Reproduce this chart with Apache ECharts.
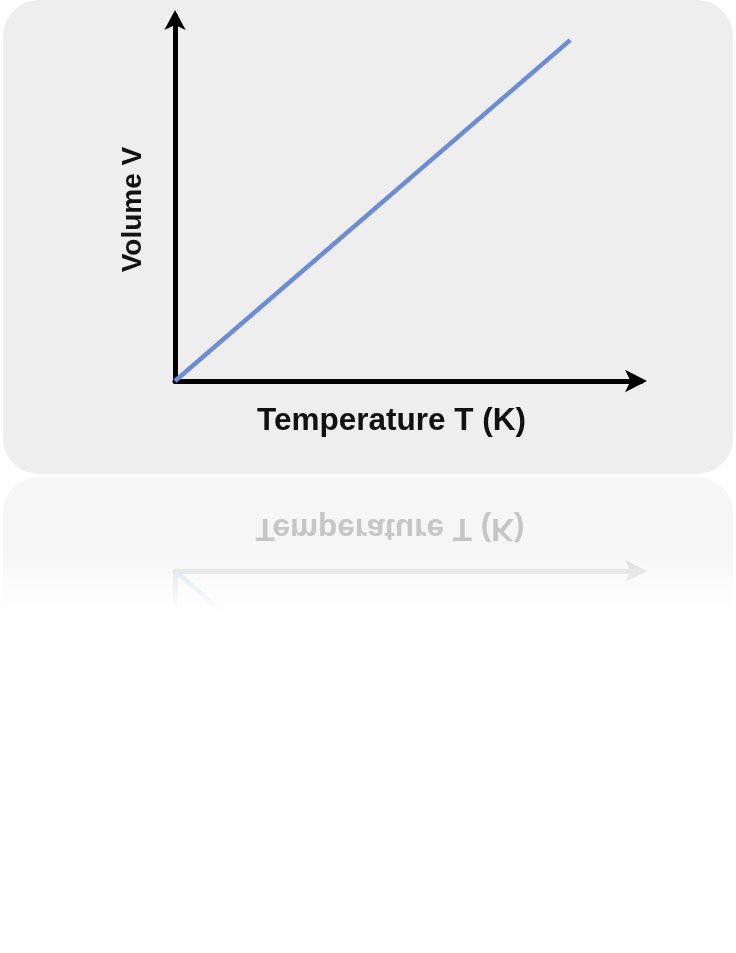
<!DOCTYPE html>
<html>
<head>
<meta charset="utf-8">
<script src="https://cdn.jsdelivr.net/npm/echarts@6/dist/echarts.min.js"></script>
<style>html,body{margin:0;padding:0;background:#fff}#c{width:736px;height:953px}</style>
</head>
<body>
<div id="c"></div>
<script>
// Data
var temperature = [0, 84.8];
var volume = [0, 93.4];
var xName = 'Temperature T (K)';
var yName = 'Volume V';

var pts = temperature.map(function (t, i) { return [t, volume[i]]; });
var font = '"Liberation Sans", Arial, sans-serif';

var chart = echarts.init(document.getElementById('c'), null, { renderer: 'canvas' });
chart.setOption({
  animation: false,
  backgroundColor: '#ffffff',
  graphic: [
    { type: 'rect', z: -10, shape: { x: 3, y: 0, width: 730, height: 474, r: 36 }, style: { fill: '#eeeeee' } },
    { type: 'rect', z: -10, shape: { x: 3, y: 477, width: 730, height: 300, r: 36 }, style: { fill: '#f6f6f6' } },
    { type: 'text', z: 10, x: 390, y: 528, scaleY: -1,
      style: { text: xName, font: 'bold 31.5px ' + font, fill: '#c6c6c6', align: 'center', verticalAlign: 'middle' } },
    { type: 'rect', z: 100, shape: { x: 0, y: 548, width: 736, height: 405 },
      style: { fill: new echarts.graphic.LinearGradient(0, 0, 0, 1, [
        { offset: 0, color: 'rgba(255,255,255,0)' },
        { offset: 0.16, color: 'rgba(255,255,255,1)' },
        { offset: 1, color: 'rgba(255,255,255,1)' }
      ]) } }
  ],
  grid: [
    { left: 175, top: 16, width: 466, height: 365 },
    { left: 175, top: 571, width: 466, height: 365 }
  ],
  xAxis: [
    { type: 'value', gridIndex: 0, min: 0, max: 100,
      axisLine: { show: true, symbol: ['none', 'arrow'], symbolSize: [17, 22], symbolOffset: [0, 6], lineStyle: { color: '#000', width: 5 } },
      axisTick: { show: false }, axisLabel: { show: false }, splitLine: { show: false },
      name: xName, nameLocation: 'middle', nameGap: 24,
      nameTextStyle: { fontFamily: font, fontWeight: 'bold', fontSize: 31.5, color: '#111', padding: [0, 33, 0, 0] } },
    { type: 'value', gridIndex: 1, min: 0, max: 100, position: 'top',
      axisLine: { show: true, symbol: ['none', 'arrow'], symbolSize: [17, 22], symbolOffset: [0, 6], lineStyle: { color: '#d9d9d9', width: 5 } },
      axisTick: { show: false }, axisLabel: { show: false }, splitLine: { show: false } }
  ],
  yAxis: [
    { type: 'value', gridIndex: 0, min: 0, max: 100,
      axisLine: { show: true, symbol: ['none', 'arrow'], symbolSize: [16, 20], symbolOffset: [0, 6], lineStyle: { color: '#000', width: 5 } },
      axisTick: { show: false }, axisLabel: { show: false }, splitLine: { show: false },
      name: yName, nameLocation: 'middle', nameGap: 28,
      nameTextStyle: { fontFamily: font, fontWeight: 'bold', fontSize: 28, color: '#111', padding: [0, 22, 0, 0] } },
    { type: 'value', gridIndex: 1, min: 0, max: 100, inverse: true,
      axisLine: { show: true, symbol: 'none', lineStyle: { color: '#dedede', width: 5 } },
      axisTick: { show: false }, axisLabel: { show: false }, splitLine: { show: false } }
  ],
  series: [
    { type: 'line', xAxisIndex: 0, yAxisIndex: 0, data: pts, symbol: 'none',
      lineStyle: { color: '#6b8cd9', width: 4.5 } },
    { type: 'line', xAxisIndex: 1, yAxisIndex: 1, data: pts, symbol: 'none',
      lineStyle: { color: '#d6ddf0', width: 4.5 } }
  ]
});
</script>
</body>
</html>
